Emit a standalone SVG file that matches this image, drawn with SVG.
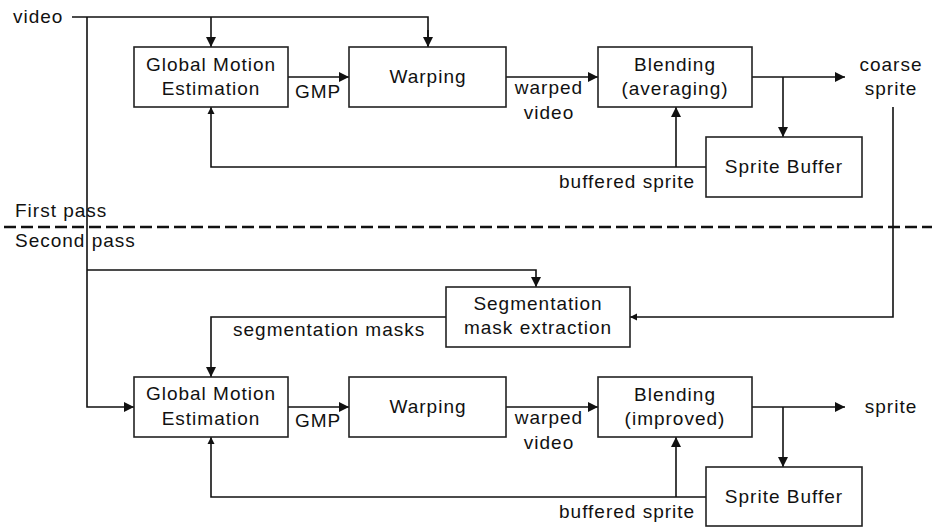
<svg xmlns="http://www.w3.org/2000/svg" width="932" height="527" viewBox="0 0 932 527">
<style>
text{font-family:"Liberation Sans",Arial,sans-serif;font-size:19px;letter-spacing:1px;fill:#111}
.c{text-anchor:middle}
.box{fill:#fff;stroke:#222;stroke-width:1.6}
.ln{fill:none;stroke:#111;stroke-width:1.6}
.a{marker-end:url(#ah)}
.s{marker-end:url(#sh)}
.dash{fill:none;stroke:#111;stroke-width:2.5;stroke-dasharray:12 5}
</style>
<defs>
<marker id="ah" markerUnits="userSpaceOnUse" markerWidth="11" markerHeight="10" refX="10" refY="5" orient="auto"><path d="M0,0 L10,5 L0,10 z" fill="#111"/></marker>
<marker id="sh" markerUnits="userSpaceOnUse" markerWidth="8" markerHeight="8" refX="7" refY="4" orient="auto"><path d="M0,0.5 L7,4 L0,7.5 z" fill="#111"/></marker>
</defs>
<rect width="932" height="527" fill="#fff"/>

<g id="connectors">
<path class="ln" d="M72 17 H428 V47"/>
<path class="ln a" d="M428 30 V47"/>
<path class="ln a" d="M211 17 V47"/>
<path class="ln a" d="M87 17 V407 H134"/>
<path class="ln a" d="M288 77 H349"/>
<path class="ln a" d="M506 77 H598"/>
<path class="ln a" d="M752 77 H845"/>
<path class="ln a" d="M783 77 V137"/>
<path class="ln s" d="M706 167 H211 V107"/>
<path class="ln a" d="M676 167 V107"/>
<path class="ln s" d="M893 107 V317 H630"/>
<path class="ln a" d="M87 270 H536 V287"/>
<path class="ln a" d="M446 317 H211 V377"/>
<path class="ln a" d="M288 407 H349"/>
<path class="ln a" d="M506 407 H598"/>
<path class="ln a" d="M752 407 H845"/>
<path class="ln a" d="M783 407 V467"/>
<path class="ln s" d="M706 497 H211 V437"/>
<path class="ln a" d="M676 497 V437"/>
<path class="dash" d="M4 227 H932"/>
</g>

<g id="labels">
<text x="13" y="23">video</text>
<text x="295" y="98">GMP</text>
<text class="c" x="549" y="94">warped</text>
<text class="c" x="549" y="119">video</text>
<text class="c" x="891" y="71">coarse</text>
<text class="c" x="891" y="95">sprite</text>
<text x="559" y="188">buffered sprite</text>
<text x="15" y="217">First pass</text>
<text x="15" y="247">Second pass</text>
<text x="233" y="336">segmentation masks</text>
<text x="295" y="427">GMP</text>
<text class="c" x="549" y="424">warped</text>
<text class="c" x="549" y="449">video</text>
<text class="c" x="891" y="413">sprite</text>
<text x="559" y="518">buffered sprite</text>
</g>

<g id="gme1"><rect class="box" x="134" y="47" width="154" height="60"/><text class="c" x="211" y="71">Global Motion</text><text class="c" x="211" y="95">Estimation</text></g>
<g id="warp1"><rect class="box" x="349" y="47" width="157" height="60"/><text class="c" x="428" y="83">Warping</text></g>
<g id="blend1"><rect class="box" x="598" y="47" width="154" height="60"/><text class="c" x="675" y="71">Blending</text><text class="c" x="675" y="95">(averaging)</text></g>
<g id="buffer1"><rect class="box" x="706" y="137" width="156" height="60"/><text class="c" x="784" y="173">Sprite Buffer</text></g>
<g id="seg"><rect class="box" x="446" y="287" width="184" height="60"/><text class="c" x="538" y="310">Segmentation</text><text class="c" x="538" y="334">mask extraction</text></g>
<g id="gme2"><rect class="box" x="134" y="377" width="154" height="60"/><text class="c" x="211" y="400">Global Motion</text><text class="c" x="211" y="425">Estimation</text></g>
<g id="warp2"><rect class="box" x="349" y="377" width="157" height="60"/><text class="c" x="428" y="413">Warping</text></g>
<g id="blend2"><rect class="box" x="598" y="377" width="154" height="60"/><text class="c" x="675" y="401">Blending</text><text class="c" x="675" y="425">(improved)</text></g>
<g id="buffer2"><rect class="box" x="706" y="467" width="156" height="59"/><text class="c" x="784" y="503">Sprite Buffer</text></g>
</svg>
